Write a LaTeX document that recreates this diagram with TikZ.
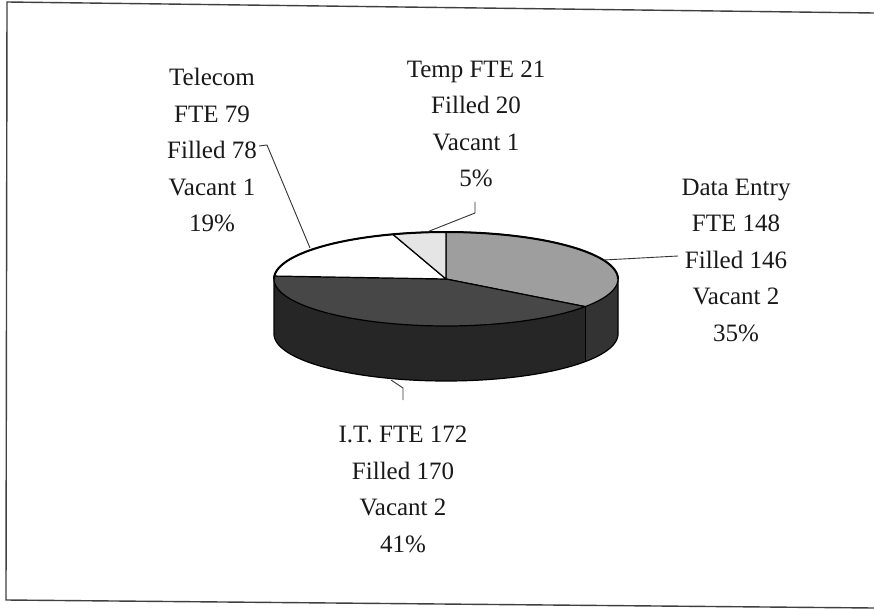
\documentclass[tikz,border=0pt]{standalone}
\usepackage{fontspec}
\setmainfont{Liberation Serif}
\begin{document}
\begin{tikzpicture}[x=1pt,y=-1pt,
  lbl/.style={font=\fontsize{25}{36.5}\selectfont, align=center, inner sep=0pt, text=black!90},
  leader/.style={draw=black!80, line width=0.9pt},
  slice/.style={draw=black, line width=1.2pt, line join=round},
  frameline/.style={draw=black!75, line width=1.4pt}]
% page and frame
\fill[white] (0,0) rectangle (874,609);
\useasboundingbox (0,0) rectangle (874,609);
\draw[frameline] (874,13) -- (7,2) -- (6,600) -- (874,608);

% pie geometry: centre, radii, depth
\def\cx{446}\def\cy{279}\def\rx{172}\def\ry{47}\def\dp{55}

% front sides
\fill[black!85] plot[domain=180:324,samples=60] ({\cx+\rx*cos(\x)},{\cy-\ry*sin(\x)})
  -- plot[domain=324:180,samples=60] ({\cx+\rx*cos(\x)},{\cy+\dp-\ry*sin(\x)}) -- cycle;
\fill[black!80] plot[domain=324:360,samples=30] ({\cx+\rx*cos(\x)},{\cy-\ry*sin(\x)})
  -- plot[domain=360:324,samples=30] ({\cx+\rx*cos(\x)},{\cy+\dp-\ry*sin(\x)}) -- cycle;
\draw[black, line width=1.2pt] ({\cx+\rx*cos(324)},{\cy-\ry*sin(324)}) -- ++(0,\dp);
\draw[slice] ({\cx-\rx},{\cy}) -- ({\cx-\rx},{\cy+\dp})
  plot[domain=180:360,samples=90] ({\cx+\rx*cos(\x)},{\cy+\dp-\ry*sin(\x)})
  -- ({\cx+\rx},{\cy});

% top faces
\coordinate (ctr) at (\cx,\cy);
\filldraw[slice, fill=black!38] (ctr) -- plot[domain=-36:90,samples=60] ({\cx+\rx*cos(\x)},{\cy-\ry*sin(\x)}) -- cycle;
\filldraw[slice, fill=black!72] (ctr) -- plot[domain=176.4:324,samples=80] ({\cx+\rx*cos(\x)},{\cy-\ry*sin(\x)}) -- cycle;
\filldraw[slice, fill=white] (ctr) -- plot[domain=108:176.4,samples=40] ({\cx+\rx*cos(\x)},{\cy-\ry*sin(\x)}) -- cycle;
\filldraw[slice, fill=black!10] (ctr) -- plot[domain=90:108,samples=20] ({\cx+\rx*cos(\x)},{\cy-\ry*sin(\x)}) -- cycle;
\draw[black, line width=2pt] plot[domain=0:180,samples=90] ({\cx+\rx*cos(\x)},{\cy-\ry*sin(\x)});

% labels
\node[lbl] (telecom) at (212,150) {Telecom\\FTE 79\\Filled 78\\Vacant 1\\19\%};
\node[lbl] (temp) at (476,123.5) {Temp FTE 21\\Filled 20\\Vacant 1\\5\%};
\node[lbl] (dataentry) at (736,260) {Data Entry\\FTE 148\\Filled 146\\Vacant 2\\35\%};
\node[lbl] (it) at (403,489) {I.T. FTE 172\\Filled 170\\Vacant 2\\41\%};

% leader line end points
\coordinate (telA) at (259,146);
\coordinate (telB) at (267,145);
\coordinate (telP) at (310,248);
\coordinate (tmpA) at (475,202);
\coordinate (tmpB) at (475,213);
\coordinate (tmpP) at (427,232);
\coordinate (deA) at (678,256);
\coordinate (deP) at (604,260);
\coordinate (itA) at (403,400);
\coordinate (itB) at (403,388);
\coordinate (itP) at (391,380);

\draw[leader] (telA) -- (telB) -- (telP);
\draw[leader] (tmpA) -- (tmpB) -- (tmpP);
\draw[leader] (deA) -- (deP);
\draw[leader] (itA) -- (itB) -- (itP);
\end{tikzpicture}
\end{document}
